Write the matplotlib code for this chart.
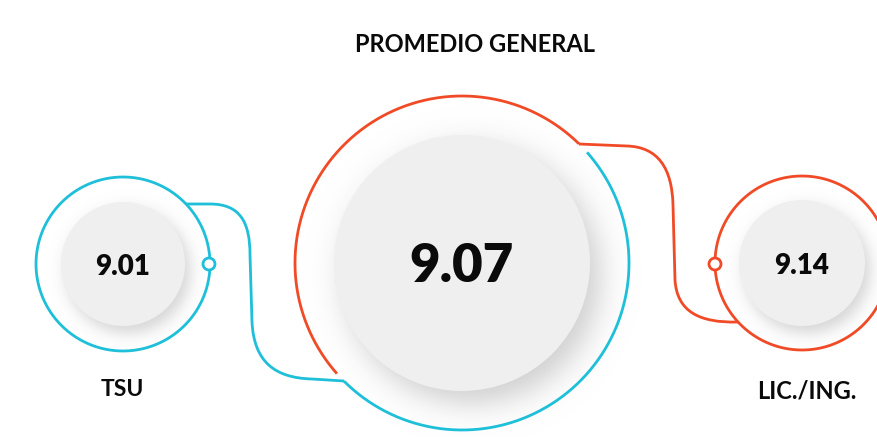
import numpy as np
import matplotlib
matplotlib.use("Agg")
import matplotlib.pyplot as plt
from matplotlib.patches import Circle
from matplotlib.path import Path
from matplotlib.patches import PathPatch

# ---- data ----
categories = ["TSU", "PROMEDIO GENERAL", "LIC./ING."]
values = [9.01, 9.07, 9.14]
value_labels = [f"{v:.2f}" for v in values]

W, H = 878, 437
CYAN = "#1ebfd8"
RED = "#f04a26"
DISK = "#efefef"
FONT = ["Lato", "DejaVu Sans"]

fig = plt.figure(figsize=(W / 100, H / 100), dpi=100)
ax = fig.add_axes([0, 0, 1, 1])
ax.set_xlim(0, W)
ax.set_ylim(H, 0)
ax.axis("off")

# layout (pixel coordinates)
centers = [(123, 264), (462, 263), (802, 263)]
ring_r = [87, 167, 87]
disk_r = [62, 128, 63]
shadow_off = [(5, 7), (10, 12), (5, 7)]
shadow_w = [9, 18, 9]
shadow_a = [0.36, 0.42, 0.36]

# ---- soft shadows ----
yy, xx = np.mgrid[0:H, 0:W] + 0.5
dark = np.zeros((H, W))
for (cx, cy), r, (ox, oy), w, a in zip(centers, disk_r, shadow_off, shadow_w, shadow_a):
    d = np.hypot(xx - (cx + ox), yy - (cy + oy))
    s = 0.5 * (1 - np.tanh((d - r) / w))
    dark = np.maximum(dark, a * s)
img = np.ones((H, W, 4))
img[..., :3] = 0.55
img[..., 3] = dark
ax.imshow(img, extent=(0, W, H, 0), zorder=1, interpolation="bilinear")

# ---- disks ----
for (cx, cy), r in zip(centers, disk_r):
    ax.add_patch(Circle((cx, cy), r, facecolor=DISK, edgecolor="none", zorder=2))

LW = 2.0


def arc(cx, cy, r, a1, a2, color):
    t = np.radians(np.linspace(a1, a2, 400))
    ax.plot(cx + r * np.cos(t), cy - r * np.sin(t), color=color, lw=LW,
            solid_capstyle="butt", zorder=3)


# TSU ring (full)
arc(*centers[0], ring_r[0], 0, 360, CYAN)
# LIC ring (full)
arc(*centers[2], ring_r[2], 0, 360, RED)
# big ring: red upper-left, cyan lower-right
arc(*centers[1], ring_r[1], 45.5, 221.5, RED)
arc(*centers[1], ring_r[1], 225, 401.5, CYAN)


def connector(verts, codes, color):
    p = Path(verts, codes)
    ax.add_patch(PathPatch(p, facecolor="none", edgecolor=color, lw=LW,
                           joinstyle="round", zorder=3))


M, L, C = Path.MOVETO, Path.LINETO, Path.CURVE4
# cyan connector TSU -> big ring
connector([(186, 204), (210, 204),
           (240, 204), (250, 222), (250, 255),
           (252, 322),
           (254, 362), (275, 378), (312, 379),
           (344, 381)],
          [M, L, C, C, C, L, C, C, C, L], CYAN)
# red connector big ring -> LIC
connector([(579, 144), (627, 146),
           (658, 147), (672, 168), (673, 205),
           (675, 280),
           (677, 312), (700, 323), (738, 322)],
          [M, L, C, C, C, L, C, C, C], RED)

# nodes
ax.add_patch(Circle((209, 264), 6, facecolor="white", edgecolor=CYAN, lw=LW, zorder=4))
ax.add_patch(Circle((715, 264), 6, facecolor="white", edgecolor=RED, lw=LW, zorder=4))

# ---- text ----
sizes = [20, 38, 20]
for (cx, cy), lab, s in zip(centers, value_labels, sizes):
    ax.text(cx, cy + 3, lab, ha="center", va="center", fontsize=s,
            fontweight="heavy", family=FONT, color="#0a0a0a", zorder=5)

ax.text(475, 45, categories[1], ha="center", va="center", fontsize=17,
        fontweight="bold", family=FONT, color="#0a0a0a")
ax.text(122, 390, categories[0], ha="center", va="center", fontsize=16.5,
        fontweight="bold", family=FONT, color="#0a0a0a")
ax.text(807, 391, categories[2], ha="center", va="center", fontsize=17,
        fontweight="bold", family=FONT, color="#0a0a0a")

fig.savefig("out.png", dpi=100, facecolor="white")
